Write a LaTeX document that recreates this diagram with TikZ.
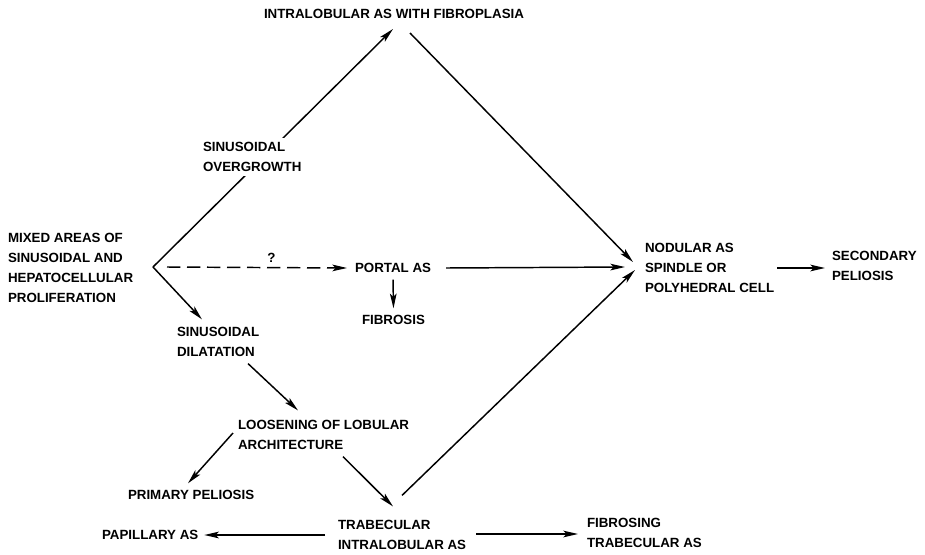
\documentclass[tikz,border=0pt]{standalone}
\usepackage{fontspec}
\setmainfont{Liberation Sans}
\usetikzlibrary{arrows.meta}
\usetikzlibrary{calc}

\tikzset{
  stage/.style = {anchor = west, align = left, inner sep = 0pt, outer sep = 0pt,
    font = \bfseries\fontsize{10}{14.8}\selectfont},
  flow/.style = {line width = 1.1pt, -{Stealth[length = 11pt, width = 5pt, inset = 2.5pt]}},
}

\begin{document}
\begin{tikzpicture}[x = 0.75pt, y = -0.75pt]
      \useasboundingbox (0, 0) rectangle (925, 554);

      % stages
      \node[stage] (mixed) at (8, 268) {MIXED AREAS OF\\SINUSOIDAL AND\\HEPATOCELLULAR\\PROLIFERATION};
      \coordinate (fork) at (153, 267);
      \node[stage, anchor = center] (fibroplasia) at (394, 14) {INTRALOBULAR AS WITH FIBROPLASIA};
      \node[stage] (portal) at (355, 268) {PORTAL AS};
      \node[stage] (fibrosis) at (362, 320) {FIBROSIS};
      \node[stage] (dilatation) at (177, 342) {SINUSOIDAL\\DILATATION};
      \node[stage] (loosening) at (238, 435) {LOOSENING OF LOBULAR\\ARCHITECTURE};
      \node[stage] (primary) at (128, 495) {PRIMARY PELIOSIS};
      \node[stage] (trabecular) at (338, 535) {TRABECULAR\\INTRALOBULAR AS};
      \node[stage] (papillary) at (102, 535) {PAPILLARY AS};
      \node[stage] (fibrosing) at (587, 533) {FIBROSING\\TRABECULAR AS};
      \node[stage] (nodular) at (645, 268) {NODULAR AS\\SPINDLE OR\\POLYHEDRAL CELL};
      \node[stage] (secondary) at (832, 266) {SECONDARY\\PELIOSIS};

      % upper branch
      \draw[flow] (fork) -- ([shift = {(-1, 15)}]fibroplasia.center);
      \node[stage, inner sep = 3pt, fill = white] (overgrowth) at (199, 157) {SINUSOIDAL\\OVERGROWTH};
      \draw[flow] ([shift = {(16, 19)}]fibroplasia.center) -- ([shift = {(-12, -6)}]nodular.west);

      % middle branch
      \draw[flow, dash pattern = on 10pt off 5pt] ([shift = {(14, 0)}]fork) -- ([shift = {(-8, 0)}]portal.west) %
        node[stage, anchor = south, pos = 0.58, yshift = 4pt] (query) {?};
      \draw[flow] ([shift = {(15, 0)}]portal.east) -- ([shift = {(-20, -1)}]nodular.west);
      \draw[flow] ([shift = {(0, 7)}]portal.south) -- ([shift = {(0, -7)}]fibrosis.north);
      \draw[flow] ([shift = {(3, 0)}]nodular.east) -- ([shift = {(-7, 2)}]secondary.west);

      % lower branch
      \draw[flow] (fork) -- ([shift = {(25, -8)}]dilatation.north west);
      \draw[flow] ([shift = {(71, 7)}]dilatation.south west) -- ([shift = {(60, -10)}]loosening.north west);
      \draw[flow] ([shift = {(-5, -2)}]loosening.west) -- ([shift = {(60, -7)}]primary.north west);
      \draw[flow] ([shift = {(105, 7)}]loosening.south west) -- ([shift = {(55, -14)}]trabecular.north west);
      \draw[flow] ([shift = {(64, -25)}]trabecular.north west) -- ([shift = {(-10, 2)}]nodular.west);
      \draw[flow] ([shift = {(-13, 0)}]trabecular.west) -- ([shift = {(6, 0)}]papillary.east);
      \draw[flow] ([shift = {(10, -1)}]trabecular.east) -- ([shift = {(-9, 1)}]fibrosing.west);
    \end{tikzpicture}
\end{document}
